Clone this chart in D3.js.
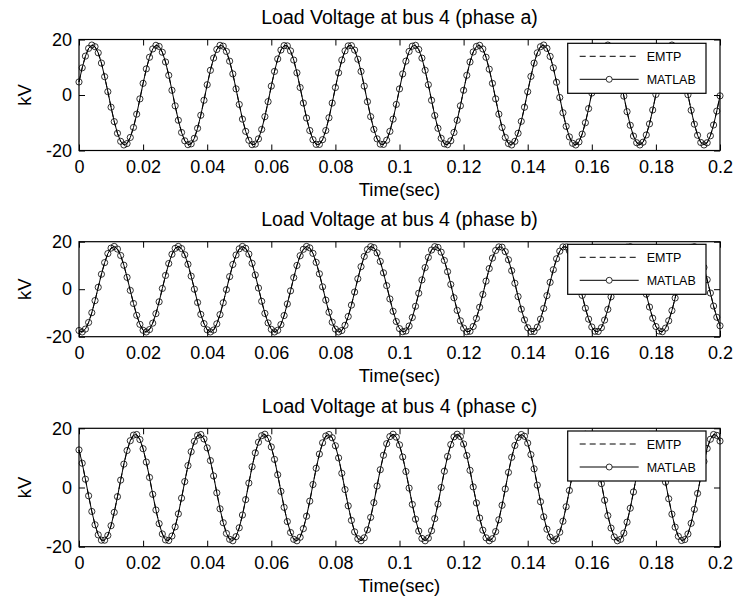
<!DOCTYPE html>
<html>
<head>
<meta charset="utf-8">
<script src="https://cdn.jsdelivr.net/npm/d3@7"></script>
<style>
  body { margin: 0; background: #fff; }
  svg { display: block; }
  text { font-family: "Liberation Sans", Arial, Helvetica, sans-serif; fill: #000; }
</style>
</head>
<body>
<svg id="fig" width="736" height="603"></svg>
<script>
// Sample interval of the simulated waveforms (s)
const timeStep = 0.001;

const xTicks = [0, 0.02, 0.04, 0.06, 0.08, 0.1, 0.12, 0.14, 0.16, 0.18, 0.2];
const xTickLabels = ["0", "0.02", "0.04", "0.06", "0.08", "0.1", "0.12", "0.14", "0.16", "0.18", "0.2"];
const yTicks = [-20, 0, 20];
const yTickLabels = ["-20", "0", "20"];
const seriesNames = ["EMTP", "MATLAB"];
const panelTitles = [
  "Load Voltage at bus 4 (phase a)",
  "Load Voltage at bus 4 (phase b)",
  "Load Voltage at bus 4 (phase c)"
];

// Load voltage at bus 4, kV, one sample per millisecond from 0 to 0.2 s
const emtpA = [
  4.7, 9.8, 14.0, 16.8, 18.0, 17.4, 15.2, 11.5, 6.6, 1.2, -4.4, -9.6, -13.8, -16.7, -18.0, -17.5, -15.3, -11.7, -6.9, -1.4,
  4.2, 9.4, 13.6, 16.6, 17.9, 17.5, 15.4, 11.9, 7.1, 1.7, -3.9, -9.1, -13.5, -16.5, -17.9, -17.6, -15.6, -12.0, -7.3, -1.9,
  3.7, 8.9, 13.3, 16.4, 17.9, 17.6, 15.7, 12.2, 7.6, 2.2, -3.4, -8.7, -13.1, -16.3, -17.9, -17.7, -15.8, -12.4, -7.8, -2.4,
  3.2, 8.5, 13.0, 16.2, 17.8, 17.7, 15.9, 12.6, 8.0, 2.7, -2.9, -8.3, -12.8, -16.1, -17.8, -17.8, -16.1, -12.8, -8.2, -2.9,
  2.7, 8.0, 12.6, 15.9, 17.7, 17.8, 16.2, 12.9, 8.5, 3.2, -2.4, -7.8, -12.4, -15.8, -17.7, -17.8, -16.3, -13.1, -8.7, -3.4,
  2.2, 7.6, 12.2, 15.7, 17.6, 17.9, 16.4, 13.3, 8.9, 3.7, -1.9, -7.4, -12.0, -15.6, -17.6, -17.9, -16.5, -13.5, -9.1, -3.9,
  1.7, 7.1, 11.9, 15.5, 17.5, 17.9, 16.6, 13.6, 9.3, 4.2, -1.4, -6.9, -11.7, -15.3, -17.5, -18.0, -16.7, -13.8, -9.5, -4.4,
  1.2, 6.7, 11.5, 15.2, 17.4, 18.0, 16.8, 13.9, 9.8, 4.6, -0.9, -6.4, -11.3, -15.1, -17.4, -18.0, -16.9, -14.1, -10.0, -4.9,
  0.7, 6.2, 11.1, 14.9, 17.3, 18.0, 16.9, 14.3, 10.2, 5.1, -0.4, -6.0, -10.9, -14.8, -17.2, -18.0, -17.0, -14.4, -10.4, -5.4,
  0.2, 5.7, 10.7, 14.6, 17.1, 18.0, 17.1, 14.6, 10.6, 5.6, 0.1, -5.5, -10.5, -14.5, -17.1, -18.0, -17.2, -14.7, -10.8, -5.8,
  -0.3
];
const emtpB = [
  -17.4, -18.0, -16.8, -14.0, -9.9, -4.8, 0.8, 6.3, 11.2, 15.0, 17.3, 18.0, 16.9, 14.2, 10.1, 5.0, -0.5, -6.0, -11.0, -14.8,
  -17.3, -18.0, -17.0, -14.3, -10.3, -5.3, 0.3, 5.8, 10.8, 14.7, 17.2, 18.0, 17.1, 14.5, 10.5, 5.5, 0.0, -5.6, -10.6, -14.5,
  -17.1, -18.0, -17.2, -14.6, -10.7, -5.7, -0.2, 5.3, 10.4, 14.4, 17.0, 18.0, 17.2, 14.8, 10.9, 6.0, 0.5, -5.1, -10.2, -14.2,
  -16.9, -18.0, -17.3, -14.9, -11.1, -6.2, -0.7, 4.9, 10.0, 14.1, 16.8, 18.0, 17.4, 15.1, 11.3, 6.5, 1.0, -4.6, -9.7, -13.9,
  -16.8, -18.0, -17.4, -15.2, -11.5, -6.7, -1.2, 4.4, 9.5, 13.8, 16.7, 17.9, 17.5, 15.3, 11.7, 6.9, 1.5, -4.1, -9.3, -13.6,
  -16.6, -17.9, -17.6, -15.5, -11.9, -7.2, -1.7, 3.9, 9.1, 13.4, 16.5, 17.9, 17.6, 15.6, 12.1, 7.4, 2.0, -3.6, -8.9, -13.3,
  -16.4, -17.9, -17.7, -15.7, -12.3, -7.6, -2.2, 3.4, 8.7, 13.1, 16.3, 17.8, 17.7, 15.8, 12.4, 7.8, 2.5, -3.1, -8.4, -12.9,
  -16.2, -17.8, -17.8, -16.0, -12.6, -8.1, -2.7, 2.9, 8.2, 12.8, 16.0, 17.8, 17.8, 16.1, 12.8, 8.3, 3.0, -2.6, -8.0, -12.6,
  -15.9, -17.7, -17.8, -16.2, -13.0, -8.5, -3.2, 2.4, 7.8, 12.4, 15.8, 17.7, 17.9, 16.3, 13.1, 8.7, 3.5, -2.1, -7.5, -12.2,
  -15.7, -17.6, -17.9, -16.4, -13.3, -9.0, -3.7, 1.9, 7.3, 12.0, 15.6, 17.6, 17.9, 16.5, 13.5, 9.2, 4.0, -1.6, -7.1, -11.8,
  -15.4
];
const emtpC = [
  12.7, 8.2, 2.8, -2.8, -8.1, -12.6, -16.0, -17.8, -17.8, -16.2, -12.9, -8.4, -3.1, 2.5, 7.9, 12.5, 15.8, 17.7, 17.9, 16.2,
  13.1, 8.6, 3.4, -2.3, -7.6, -12.2, -15.7, -17.7, -17.9, -16.4, -13.3, -8.9, -3.6, 2.0, 7.4, 12.1, 15.6, 17.6, 17.9, 16.4,
  13.4, 9.1, 3.9, -1.8, -7.2, -11.9, -15.5, -17.5, -18.0, -16.6, -13.6, -9.3, -4.1, 1.5, 7.0, 11.7, 15.3, 17.5, 18.0, 16.6,
  13.7, 9.5, 4.3, -1.3, -6.7, -11.5, -15.2, -17.5, -18.0, -16.8, -13.9, -9.7, -4.6, 1.0, 6.5, 11.3, 15.1, 17.4, 17.9, 16.8,
  14.1, 10.0, 4.8, -0.7, -6.2, -11.1, -15.0, -17.3, -18.0, -17.0, -14.3, -10.1, -5.1, 0.5, 6.0, 10.9, 14.8, 17.2, 18.0, 17.0,
  14.4, 10.3, 5.4, -0.2, -5.7, -10.7, -14.7, -17.2, -18.0, -17.1, -14.6, -10.5, -5.6, 0.0, 5.5, 10.5, 14.5, 17.1, 18.0, 17.2,
  14.7, 10.8, 5.8, 0.2, -5.2, -10.3, -14.4, -17.0, -18.0, -17.3, -14.9, -10.9, -6.0, -0.5, 5.1, 10.2, 14.2, 16.9, 17.9, 17.3,
  15.0, 11.1, 6.3, 0.8, -4.8, -9.9, -14.1, -16.8, -18.0, -17.4, -15.1, -11.4, -6.5, -1.0, 4.6, 9.7, 13.9, 16.7, 18.0, 17.5,
  15.2, 11.5, 6.7, 1.3, -4.3, -9.5, -13.7, -16.7, -18.0, -17.5, -15.4, -11.7, -7.0, -1.5, 4.1, 9.3, 13.5, 16.5, 17.9, 17.6,
  15.5, 11.9, 7.2, 1.8, -3.8, -9.0, -13.4, -16.5, -17.9, -17.6, -15.7, -12.1, -7.4, -2.0, 3.6, 8.8, 13.2, 16.3, 17.9, 17.6,
  15.7
];
// The MATLAB model reproduces the EMTP traces to plotting accuracy
const matlabA = emtpA;
const matlabB = emtpB;
const matlabC = emtpC;

// ---- layout ----
const W = 736, H = 603;
const plotLeft = 79, plotRight = 720;
const panels = [
  { top: 39.5,  bottom: 150.5, title: panelTitles[0], emtp: emtpA, matlab: matlabA, legendTop: 43.3 },
  { top: 241.7, bottom: 336.7, title: panelTitles[1], emtp: emtpB, matlab: matlabB, legendTop: 244.3 },
  { top: 428.3, bottom: 546.7, title: panelTitles[2], emtp: emtpC, matlab: matlabC, legendTop: 431 }
];
const fontTick = 18, fontLabel = 18.5, fontTitle = 19.5, fontLegend = 12.5;

const svg = d3.select("#fig");
svg.append("rect").attr("width", W).attr("height", H).attr("fill", "#fff");

const x = d3.scaleLinear().domain([0, 0.2]).range([plotLeft, plotRight]);

panels.forEach(p => {
  const y = d3.scaleLinear().domain([-20, 20]).range([p.bottom, p.top]);
  const g = svg.append("g");
  const midX = (plotLeft + plotRight) / 2;

  // axes with inward ticks on all four sides
  const tick = 6;
  const bottomAxis = g.append("g").attr("transform", `translate(0,${p.bottom})`)
    .call(d3.axisBottom(x).tickValues(xTicks).tickSizeInner(-tick).tickSizeOuter(0)
      .tickPadding(10).tickFormat((d, i) => xTickLabels[i]));
  const topAxis = g.append("g").attr("transform", `translate(0,${p.top})`)
    .call(d3.axisTop(x).tickValues(xTicks).tickSizeInner(-tick).tickSizeOuter(0).tickFormat(""));
  const leftAxis = g.append("g").attr("transform", `translate(${plotLeft},0)`)
    .call(d3.axisLeft(y).tickValues(yTicks).tickSizeInner(-tick).tickSizeOuter(0)
      .tickPadding(7).tickFormat((d, i) => yTickLabels[i]));
  const rightAxis = g.append("g").attr("transform", `translate(${plotRight},0)`)
    .call(d3.axisRight(y).tickValues(yTicks).tickSizeInner(-tick).tickSizeOuter(0).tickFormat(""));
  [bottomAxis, topAxis, leftAxis, rightAxis].forEach(a => {
    a.select(".domain").remove();
    a.selectAll("line").attr("stroke", "#000").attr("stroke-width", 1);
    a.selectAll("text").style("font-family", '"Liberation Sans", Arial, sans-serif')
      .style("font-size", fontTick + "px").attr("fill", "#000");
  });

  // series lines
  const line = d3.line().x((d, i) => x(i * timeStep)).y(d => y(d));
  g.append("path").datum(p.emtp).attr("d", line)
    .attr("fill", "none").attr("stroke", "#000").attr("stroke-width", 1).attr("stroke-dasharray", "6,4");
  g.append("path").datum(p.matlab).attr("d", line)
    .attr("fill", "none").attr("stroke", "#000").attr("stroke-width", 1);
  g.append("g").selectAll("circle").data(p.matlab).join("circle")
    .attr("cx", (d, i) => x(i * timeStep)).attr("cy", d => y(d)).attr("r", 3.1)
    .attr("fill", "none").attr("stroke", "#000").attr("stroke-width", 0.8);

  // plot frame
  g.append("rect").attr("x", plotLeft).attr("y", p.top)
    .attr("width", plotRight - plotLeft).attr("height", p.bottom - p.top)
    .attr("fill", "none").attr("stroke", "#000").attr("stroke-width", 1.2);

  // title and axis labels
  g.append("text").attr("x", midX).attr("y", p.top - 15.5).attr("text-anchor", "middle")
    .style("font-size", fontTitle + "px").text(p.title);
  g.append("text").attr("x", midX).attr("y", p.bottom + 45.5).attr("text-anchor", "middle")
    .style("font-size", fontLabel + "px").text("Time(sec)");
  const midY = (p.top + p.bottom) / 2;
  g.append("text").attr("transform", `translate(31,${midY}) rotate(-90)`).attr("text-anchor", "middle")
    .style("font-size", fontLabel + "px").text("kV");

  // legend
  const lx = 567.7, lw = 138.3, lh = 50;
  const lg = g.append("g").attr("transform", `translate(${lx},${p.legendTop})`);
  lg.append("rect").attr("width", lw).attr("height", lh)
    .attr("fill", "#fff").attr("stroke", "#000").attr("stroke-width", 1.2);
  const rows = [13, 36];
  seriesNames.forEach((name, i) => {
    const ry = rows[i];
    lg.append("line").attr("x1", 12).attr("x2", 71).attr("y1", ry).attr("y2", ry)
      .attr("stroke", "#000").attr("stroke-width", 1)
      .attr("stroke-dasharray", i === 0 ? "6,4" : null);
    if (i === 1) {
      lg.append("circle").attr("cx", 41.5).attr("cy", ry).attr("r", 3)
        .attr("fill", "#fff").attr("stroke", "#000").attr("stroke-width", 0.8);
    }
    lg.append("text").attr("x", 79).attr("y", ry + 4.5)
      .style("font-size", fontLegend + "px").text(name);
  });
});
</script>
</body>
</html>
